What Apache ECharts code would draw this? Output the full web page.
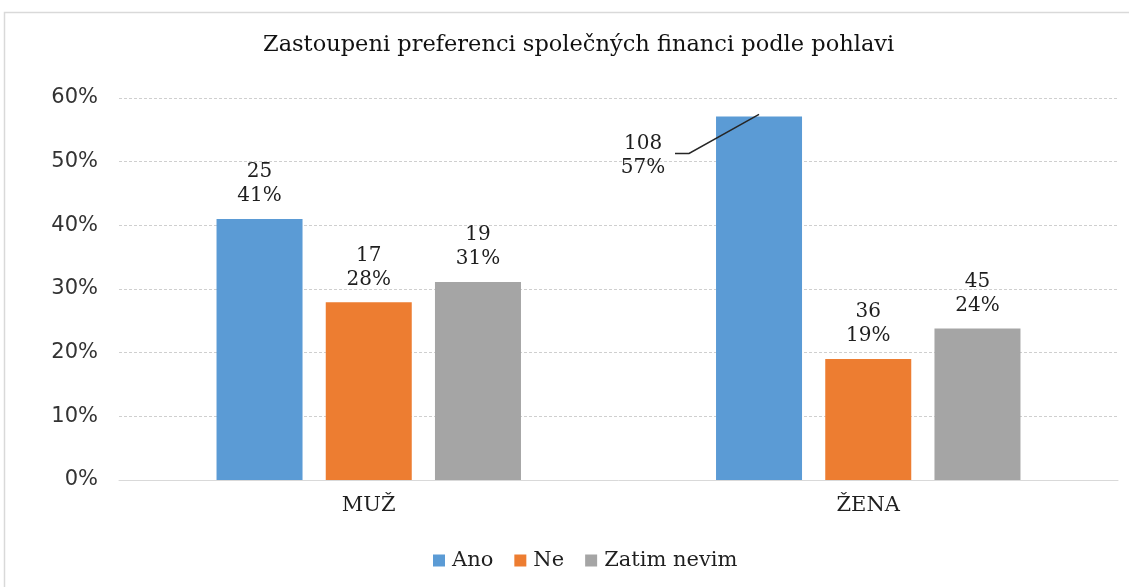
<!DOCTYPE html>
<html><head><meta charset="utf-8">
<script src="https://cdn.jsdelivr.net/npm/echarts@6/dist/echarts.min.js"></script>
<style>html,body{margin:0;padding:0;background:#fff}#c{width:1129px;height:587px}</style>
</head><body><div id="c"></div>
<script>
const categories = ['MUŽ', 'ŽENA'];
const legendNames = ['Ano', 'Ne', 'Zatim nevim'];
const anoPct = [41.0, 57.1];
const nePct = [27.9, 19.0];
const zatimPct = [31.1, 23.8];
const anoCount = [25, 108];
const neCount = [17, 36];
const zatimCount = [19, 45];
const yTicks = [0, 10, 20, 30, 40, 50, 60];
const colors = ['#5b9bd5', '#ed7d31', '#a5a5a5'];

const pcts = [anoPct, nePct, zatimPct];
const counts = [anoCount, neCount, zatimCount];
const serif = 'DejaVu Serif';
let movedRect = null;

const chart = echarts.init(document.getElementById('c'));
const series = pcts.map((arr, si) => ({
  name: legendNames[si],
  type: 'bar',
  data: arr,
  barWidth: 86,
  barGap: '27%',
  itemStyle: { color: colors[si] },
  label: {
    show: true,
    position: 'top',
    distance: 11,
    fontFamily: serif,
    fontSize: 20,
    lineHeight: 24,
    color: '#1f1f1f',
    formatter: p => counts[si][p.dataIndex] + '\n' + Math.round(p.value) + '%'
  },
  labelLayout: si === 0 ? function (p) {
    if (p.dataIndex === 1) {
      movedRect = p.rect;
      return { x: p.rect.x - 73, y: p.rect.y + 39, align: 'center', verticalAlign: 'middle' };
    }
    return {};
  } : undefined
}));

chart.setOption({
  animation: false,
  title: {
    text: 'Zastoupeni preferenci společných financi podle pohlavi',
    left: 258, top: 29,
    textStyle: { fontFamily: serif, fontSize: 22.5, fontWeight: 'normal', color: '#111' }
  },
  legend: {
    bottom: 11, left: 428,
    itemWidth: 12, itemHeight: 12, itemGap: 21,
    icon: 'rect',
    textStyle: { fontFamily: serif, fontSize: 21, color: '#1f1f1f', padding: [0, 0, 0, 2] }
  },
  grid: { left: 119, right: 11, top: 98, bottom: 107, containLabel: false },
  xAxis: {
    type: 'category', data: categories,
    axisLine: { lineStyle: { color: '#d9d9d9', width: 1 } },
    axisTick: { show: false },
    axisLabel: { fontFamily: serif, fontSize: 21, color: '#1f1f1f', margin: 15 }
  },
  yAxis: {
    type: 'value', min: 0, max: 60, interval: 10,
    axisLine: { show: false }, axisTick: { show: false },
    axisLabel: { fontFamily: 'DejaVu Sans', fontSize: 21, color: '#333', margin: 21,
      formatter: v => yTicks.includes(v) ? v + '%' : '' },
    splitLine: { lineStyle: { color: '#cfcfcf', type: [3, 2] } }
  },
  graphic: [{
    id: 'frame', type: 'rect', silent: true, z: -10,
    shape: { x: 4.5, y: 12.5, width: 1140, height: 600 },
    style: { fill: 'none', stroke: '#d9d9d9', lineWidth: 1.5 }
  }],
  series: series
});

if (movedRect) {
  const r = movedRect;
  chart.setOption({
    graphic: [{
      id: 'leader', type: 'polyline', silent: true, z: 100,
      shape: { points: [
        [r.x + r.width / 2, r.y - 2],
        [r.x - 27, r.y + 37],
        [r.x - 41, r.y + 37]
      ] },
      style: { fill: 'none', stroke: '#262626', lineWidth: 1.5 }
    }]
  });
}
</script></body></html>
